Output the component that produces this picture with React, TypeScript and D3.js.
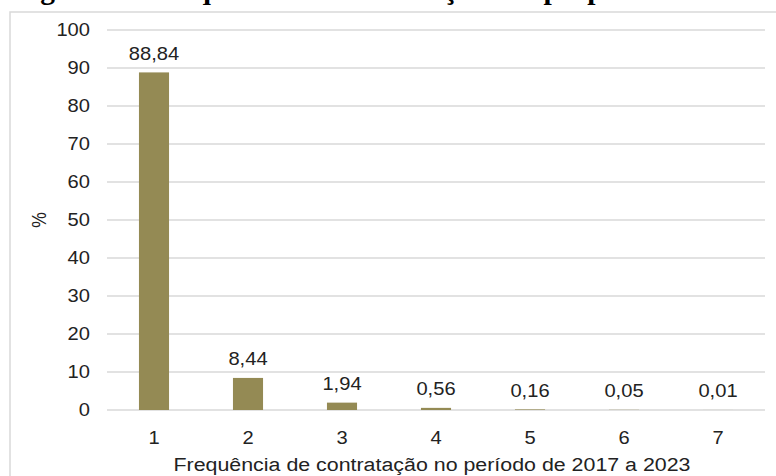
import React from "react";
import * as d3 from "d3";

const categories = ["1", "2", "3", "4", "5", "6", "7"];
const values = [88.84, 8.44, 1.94, 0.56, 0.16, 0.05, 0.01];
const valueLabels = ["88,84", "8,44", "1,94", "0,56", "0,16", "0,05", "0,01"];
const yTicks = [0, 10, 20, 30, 40, 50, 60, 70, 80, 90, 100];
const yAxisLabel = "%";
const xAxisLabel = "Frequência de contratação no período de 2017 a 2023";
const captionText = "Figura 1 – Frequência de contratação dos proprietários";

const W = 776;
const H = 476;
const plotLeft = 107;
const plotRight = 765;
const plotTop = 30;
const plotBottom = 410;
const barColor = "#948A54";
const gridColor = "#D9D9D9";
const textColor = "#222222";
const sx = 1.15;
const fs = 17.5;

export default function App() {
  const x = d3.scaleBand().domain(categories).range([plotLeft, plotRight]).paddingInner(0.68).paddingOuter(0.34);
  const y = d3.scaleLinear().domain([0, 100]).range([plotBottom, plotTop]);
  const bw = x.bandwidth();

  const stretched = (tx: number, ty: number) => `translate(${tx},${ty}) scale(${sx},1)`;

  return (
    <svg width={W} height={H} style={{ position: "absolute", left: 0, top: 0 }} fontFamily="'Liberation Sans', Arial, sans-serif">
      <rect x={0} y={0} width={W} height={H} fill="#fff" />
      <text x={14} y={-1.5} fontFamily="'Liberation Serif', 'Times New Roman', serif" fontWeight="bold" fontSize={29.5} fill="#000">
        {captionText}
      </text>
      <rect x={10} y={12} width={W + 20} height={H + 20} fill="none" stroke={gridColor} strokeWidth={1.5} />
      {yTicks.map((t) => (
        <g key={t}>
          <line x1={plotLeft} x2={plotRight} y1={y(t)} y2={y(t)} stroke={gridColor} strokeWidth={1.5} />
          <text transform={stretched(90, y(t) + 6.3)} textAnchor="end" fontSize={fs} fill={textColor}>
            {t}
          </text>
        </g>
      ))}
      {values.map((v, i) => {
        const cx = (x(categories[i]) as number) + bw / 2;
        return (
          <g key={i}>
            <rect x={x(categories[i])} y={y(v)} width={bw} height={plotBottom - y(v)} fill={barColor} />
            <text transform={stretched(cx, y(v) - 12.5)} textAnchor="middle" fontSize={fs} fill={textColor}>
              {valueLabels[i]}
            </text>
            <text transform={stretched(cx, 444)} textAnchor="middle" fontSize={fs} fill={textColor}>
              {categories[i]}
            </text>
          </g>
        );
      })}
      <text transform={`translate(46,220) rotate(-90) scale(1,${sx})`} textAnchor="middle" fontSize={fs} fill={textColor}>
        {yAxisLabel}
      </text>
      <text transform={stretched(432, 471)} textAnchor="middle" fontSize={18.6} fill={textColor}>
        {xAxisLabel}
      </text>
    </svg>
  );
}
